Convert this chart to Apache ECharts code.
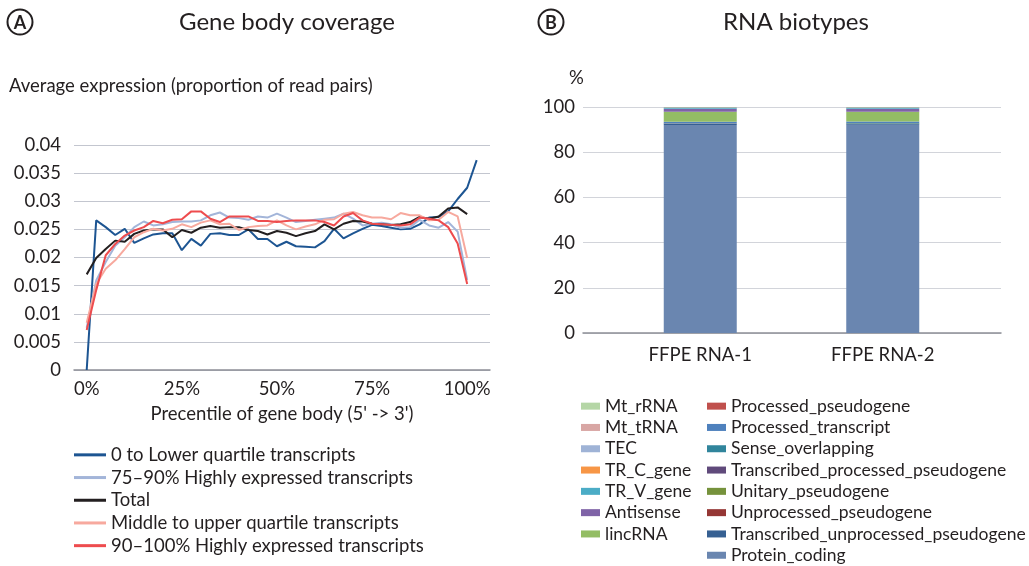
<!DOCTYPE html>
<html>
<head>
<meta charset="utf-8">
<title>Gene body coverage / RNA biotypes</title>
<script src="https://cdn.jsdelivr.net/npm/echarts@6/dist/echarts.min.js"></script>
<style>
  html, body { margin: 0; padding: 0; background: #fff; }
  #main { width: 1029px; height: 566px; }
</style>
</head>
<body>
<div id="main"></div>
<script>
// ---- data: gene body coverage (points every 2.5% of gene body) ----
var lowerQuartile = [0, 0.0266, 0.0254, 0.0240, 0.0251, 0.0226, 0.0234, 0.0241, 0.0243, 0.0243,
  0.0213, 0.0233, 0.0221, 0.0242, 0.0243, 0.0240, 0.0240, 0.0250, 0.0233, 0.0233,
  0.0220, 0.0228, 0.0220, 0.0219, 0.0218, 0.0229, 0.0251, 0.0234, 0.0243, 0.0251,
  0.0258, 0.0256, 0.0253, 0.0250, 0.0251, 0.0259, 0.0271, 0.0272, 0.0282, 0.0304,
  0.0324, 0.0373];
var high7590 = [0.0075, 0.0159, 0.0192, 0.0221, 0.0236, 0.0254, 0.0264, 0.0257, 0.0259, 0.0263,
  0.0264, 0.0264, 0.0266, 0.0275, 0.0280, 0.0271, 0.0270, 0.0267, 0.0273, 0.0271,
  0.0278, 0.0271, 0.0263, 0.0265, 0.0267, 0.0269, 0.0271, 0.0278, 0.0269, 0.0257,
  0.0260, 0.0262, 0.0259, 0.0253, 0.0254, 0.0267, 0.0257, 0.0253, 0.0263, 0.0246,
  0.0160];
var total = [0.0170, 0.0199, 0.0215, 0.0230, 0.0228, 0.0242, 0.0248, 0.0250, 0.0250, 0.0236,
  0.0249, 0.0244, 0.0253, 0.0256, 0.0253, 0.0254, 0.0254, 0.0249, 0.0247, 0.0241,
  0.0247, 0.0244, 0.0238, 0.0243, 0.0247, 0.0259, 0.0250, 0.0260, 0.0265, 0.0264,
  0.0260, 0.0259, 0.0258, 0.0259, 0.0263, 0.0272, 0.0269, 0.0273, 0.0287, 0.0289,
  0.0277];
var midUpper = [0.0084, 0.0153, 0.0180, 0.0195, 0.0215, 0.0236, 0.0245, 0.0251, 0.0248, 0.0251,
  0.0259, 0.0254, 0.0262, 0.0266, 0.0259, 0.0260, 0.0249, 0.0254, 0.0256, 0.0257,
  0.0266, 0.0257, 0.0250, 0.0255, 0.0259, 0.0267, 0.0268, 0.0278, 0.0281, 0.0275,
  0.0271, 0.0271, 0.0268, 0.0279, 0.0275, 0.0275, 0.0266, 0.0267, 0.0281, 0.0273,
  0.0199];
var high90100 = [0.0071, 0.0142, 0.0204, 0.0224, 0.0239, 0.0248, 0.0254, 0.0265, 0.0261, 0.0267,
  0.0268, 0.0282, 0.0282, 0.0269, 0.0263, 0.0273, 0.0273, 0.0273, 0.0265, 0.0265,
  0.0263, 0.0265, 0.0266, 0.0266, 0.0266, 0.0263, 0.0257, 0.0273, 0.0279, 0.0266,
  0.0260, 0.0259, 0.0258, 0.0257, 0.0259, 0.0271, 0.0269, 0.0266, 0.0254, 0.0225,
  0.0153];
var lineNames = ['0 to Lower quartile transcripts', '75\u201390% Highly expressed transcripts', 'Total',
  'Middle to upper quartile transcripts', '90\u2013100% Highly expressed transcripts'];
var xTickIdx = [0, 10, 20, 30, 40];
var xTickText = ['0%', '25%', '50%', '75%', '100%'];

// ---- data: RNA biotypes (stacked bottom -> top, %) ----
var samples = ['FFPE RNA-1', 'FFPE RNA-2'];
var biotypes = ['Protein_coding', 'Transcribed_unprocessed_pseudogene', 'Unprocessed_pseudogene',
  'Unitary_pseudogene', 'Transcribed_processed_pseudogene', 'Sense_overlapping',
  'Processed_transcript', 'Processed_pseudogene', 'lincRNA', 'Antisense', 'TR_V_gene',
  'TR_C_gene', 'TEC', 'Mt_tRNA', 'Mt_rRNA'];
var rna1 = [92.0, 0.6, 0.05, 0.02, 0.05, 0.05, 0.7, 0.05, 4.4, 1.3, 0.6, 0.02, 0.05, 0.02, 0.02];
var rna2 = [92.1, 0.6, 0.05, 0.02, 0.05, 0.05, 0.7, 0.05, 4.3, 1.3, 0.6, 0.02, 0.05, 0.02, 0.02];
var legendCol1 = ['Mt_rRNA', 'Mt_tRNA', 'TEC', 'TR_C_gene', 'TR_V_gene', 'Antisense', 'lincRNA'];
var legendCol2 = ['Processed_pseudogene', 'Processed_transcript', 'Sense_overlapping',
  'Transcribed_processed_pseudogene', 'Unitary_pseudogene', 'Unprocessed_pseudogene',
  'Transcribed_unprocessed_pseudogene', 'Protein_coding'];

(function () {
    var myChart = echarts.init(document.getElementById('main'), null, { renderer: 'canvas' });
    var font = 'Lato';
    var txt = '#231f20';
    var fs = 18.5;

    var lineColors = ['#1d5592', '#a3b5d9', '#231f20', '#f7a99e', '#ee4c4e'];
    var lineData = [lowerQuartile, high7590, total, midUpper, high90100];

    var bioColors = {
        Protein_coding: '#6a86b0', Transcribed_unprocessed_pseudogene: '#366092',
        Unprocessed_pseudogene: '#953735', Unitary_pseudogene: '#76923c',
        Transcribed_processed_pseudogene: '#604a7b', Sense_overlapping: '#31859c',
        Processed_transcript: '#4f81bd', Processed_pseudogene: '#c0504d',
        lincRNA: '#93bd64', Antisense: '#7f63a7', TR_V_gene: '#4bacc6',
        TR_C_gene: '#f79646', TEC: '#9fb3d6', Mt_tRNA: '#d8a6a4', Mt_rRNA: '#b5d6a6'
    };

    var series = [];
    lineData.forEach(function (arr, k) {
        series.push({
            name: lineNames[k],
            type: 'line',
            xAxisIndex: 0, yAxisIndex: 0,
            symbol: 'none',
            color: lineColors[k],
            lineStyle: { width: 2, color: lineColors[k] },
            data: arr.map(function (v, i) { return [i, v]; })
        });
    });
    biotypes.forEach(function (b, k) {
        series.push({
            name: b,
            type: 'bar',
            stack: 'bio',
            xAxisIndex: 2, yAxisIndex: 2,
            barWidth: 73,
            color: bioColors[b],
            itemStyle: { color: bioColors[b] },
            data: [rna1[k], rna2[k]]
        });
    });

    var option = {
        animation: false,
        textStyle: { fontFamily: font, color: txt },
        title: [
            { text: 'Gene body coverage', left: 282, top: 5, textAlign: 'center',
              textStyle: { fontFamily: font, fontSize: 24, fontWeight: 'normal', color: txt } },
            { text: 'RNA biotypes', left: 791, top: 5, textAlign: 'center',
              textStyle: { fontFamily: font, fontSize: 24, fontWeight: 'normal', color: txt } },
            { text: 'Average expression (proportion of read pairs)', left: 4, top: 72,
              textStyle: { fontFamily: font, fontSize: fs, fontWeight: 'normal', color: txt } },
            { text: '%', left: 564, top: 64,
              textStyle: { fontFamily: font, fontSize: fs, fontWeight: 'normal', color: txt } }
        ],
        graphic: [
            { type: 'circle', shape: { cx: 20, cy: 22, r: 12.5 }, style: { fill: '#fff', stroke: txt, lineWidth: 2 } },
            { type: 'text', x: 20, y: 23, style: { text: 'A', fontFamily: font, fontSize: 18, fontWeight: 'bold', fill: txt, align: 'center', verticalAlign: 'middle' } },
            { type: 'circle', shape: { cx: 551, cy: 22, r: 12.5 }, style: { fill: '#fff', stroke: txt, lineWidth: 2 } },
            { type: 'text', x: 551, y: 23, style: { text: 'B', fontFamily: font, fontSize: 18, fontWeight: 'bold', fill: txt, align: 'center', verticalAlign: 'middle' } }
        ],
        legend: [
            { orient: 'vertical', left: 74, top: 443.5, height: 130, padding: 0, itemGap: 0,
              itemWidth: 32, itemHeight: 3, icon: 'rect', data: lineNames,
              textStyle: { fontFamily: font, fontSize: fs, color: txt, lineHeight: 22.7 } },
            { orient: 'vertical', left: 581, top: 395.5, height: 190, padding: 0, itemGap: 0,
              itemWidth: 19, itemHeight: 7, icon: 'rect', data: legendCol1,
              textStyle: { fontFamily: font, fontSize: 17.5, color: txt, lineHeight: 21.3 } },
            { orient: 'vertical', left: 707, top: 395.5, height: 190, padding: 0, itemGap: 0,
              itemWidth: 19, itemHeight: 7, icon: 'rect', data: legendCol2,
              textStyle: { fontFamily: font, fontSize: 17.5, color: txt, lineHeight: 21.3 } }
        ],
        grid: [
            { left: 74, right: 539, top: 145, bottom: 196 },
            { left: 583, right: 28, top: 107, bottom: 233 },
            { left: 609, right: 55, top: 107, bottom: 233 }
        ],
        xAxis: [
            { type: 'value', gridIndex: 0, min: -1.335, max: 42.4,
              name: "Precentile of gene body (5' -> 3')", nameLocation: 'middle', nameGap: 35,
              nameTextStyle: { fontFamily: font, fontSize: fs, color: txt },
              splitLine: { show: false },
              axisLine: { show: true, lineStyle: { color: '#8d8f96', width: 1.5 } },
              axisTick: { show: false },
              axisLabel: { customValues: xTickIdx, margin: 10, fontFamily: font, fontSize: fs, color: txt,
                formatter: function (v) { return xTickText[xTickIdx.indexOf(Math.round(v))] || ''; } } },
            { type: 'value', gridIndex: 1, min: 0, max: 1,
              splitLine: { show: false }, axisTick: { show: false }, axisLabel: { show: false },
              axisLine: { show: true, lineStyle: { color: '#8d8f96', width: 1.5 } } },
            { type: 'category', gridIndex: 2, data: samples,
              axisLine: { show: false }, axisTick: { show: false },
              axisLabel: { margin: 13, fontFamily: font, fontSize: fs, color: txt } }
        ],
        yAxis: [
            { type: 'value', gridIndex: 0, min: 0, max: 0.04, interval: 0.005,
              axisLine: { show: false }, axisTick: { show: false },
              axisLabel: { margin: 13, fontFamily: font, fontSize: fs, color: txt },
              splitLine: { lineStyle: { color: '#c3c6cf', width: 1.2 } } },
            { type: 'value', gridIndex: 1, min: 0, max: 100, interval: 20,
              axisLine: { show: false }, axisTick: { show: false },
              axisLabel: { margin: 8, fontFamily: font, fontSize: fs, color: txt },
              splitLine: { lineStyle: { color: '#d2d4da', width: 1.2 } } },
            { type: 'value', gridIndex: 2, min: 0, max: 100, show: false }
        ],
        series: series
    };
    myChart.setOption(option);
    window.addEventListener('resize', function () {
        myChart.resize();
    });
})();
</script>
</body>
</html>
